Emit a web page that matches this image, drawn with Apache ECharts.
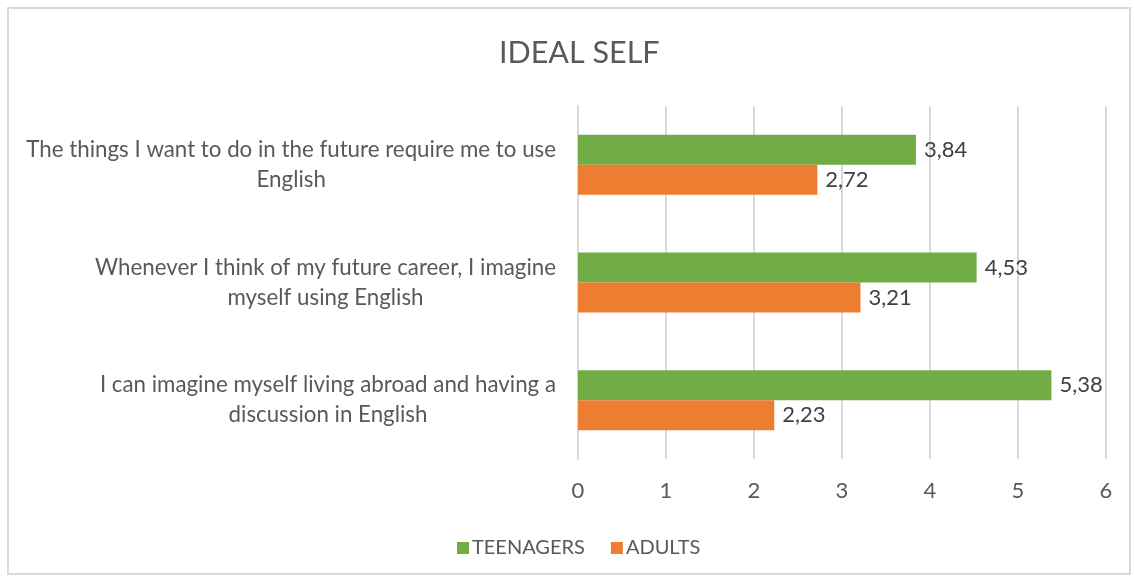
<!DOCTYPE html>
<html>
<head>
<meta charset="utf-8">
<script src="https://cdn.jsdelivr.net/npm/echarts@6/dist/echarts.min.js"></script>
<style>
  html, body { margin: 0; padding: 0; background: #fff; }
  #frame { position: absolute; left: 7px; top: 7px; width: 1124px; height: 568px; border: 2px solid #d9d9d9; box-sizing: border-box; }
  #chart { position: absolute; left: 0; top: 0; width: 1134px; height: 578px; }
</style>
</head>
<body>
<div id="frame"></div>
<div id="chart"></div>
<script>
// bottom to top, as the category axis draws them
const categories = [
    'I can imagine myself living abroad and having a\ndiscussion in English',
    'Whenever I think of my future career, I imagine\nmyself using English',
    'The things I want to do in the future require me to use\nEnglish'
]
const teenagers = [5.38, 4.53, 3.84]
const adults = [2.23, 3.21, 2.72]
const xTicks = [0, 1, 2, 3, 4, 5, 6]

const font = 'Lato, "Open Sans", sans-serif'
const instance = echarts.init(document.getElementById('chart'))

const valueLabel = {
    show: true,
    position: 'right',
    distance: 8,
    color: '#404040',
    fontSize: 22,
    fontFamily: font,
    formatter: p => p.value.toFixed(2).replace('.', ',')
}

instance.setOption({
    animation: false,
    color: ['#70ad47', '#ed7d31'],
    title: {
        text: 'IDEAL SELF',
        left: 494,
        top: 33,
        textStyle: { color: '#595959', fontSize: 30.5, fontWeight: 'normal', fontFamily: font }
    },
    legend: {
        data: ['TEENAGERS', 'ADULTS'],
        left: 452,
        top: 533,
        itemWidth: 12,
        itemHeight: 12,
        itemGap: 26,
        icon: 'rect',
        textStyle: { color: '#595959', fontSize: 20, fontFamily: font, padding: [0, 0, 0, -2] }
    },
    grid: { left: 578, right: 28, top: 106, bottom: 119 },
    xAxis: {
        type: 'value',
        min: xTicks[0],
        max: xTicks[xTicks.length - 1],
        interval: 1,
        axisLine: { show: false },
        axisTick: { show: false },
        splitLine: { lineStyle: { color: '#d9d9d9', width: 2 } },
        axisLabel: { color: '#595959', fontSize: 22, fontFamily: font, margin: 21 }
    },
    yAxis: {
        type: 'category',
        data: categories,
        axisLine: { lineStyle: { color: '#d9d9d9', width: 2 } },
        axisTick: { show: false },
        axisLabel: {
            color: '#595959',
            fontSize: 22.3,
            fontFamily: font,
            margin: 22,
            lineHeight: 30,
            formatter: v => v.split('\n').map(s => '{c|' + s + '}').join('\n'),
            rich: { c: { align: 'center', color: '#595959', fontSize: 22.3, fontFamily: font, lineHeight: 30 } }
        }
    },
    series: [
        { name: 'TEENAGERS', type: 'bar', data: teenagers, barGap: 0, barCategoryGap: '49%', label: valueLabel },
        { name: 'ADULTS', type: 'bar', data: adults, barGap: 0, barCategoryGap: '49%', label: valueLabel }
    ]
})
</script>
</body>
</html>
